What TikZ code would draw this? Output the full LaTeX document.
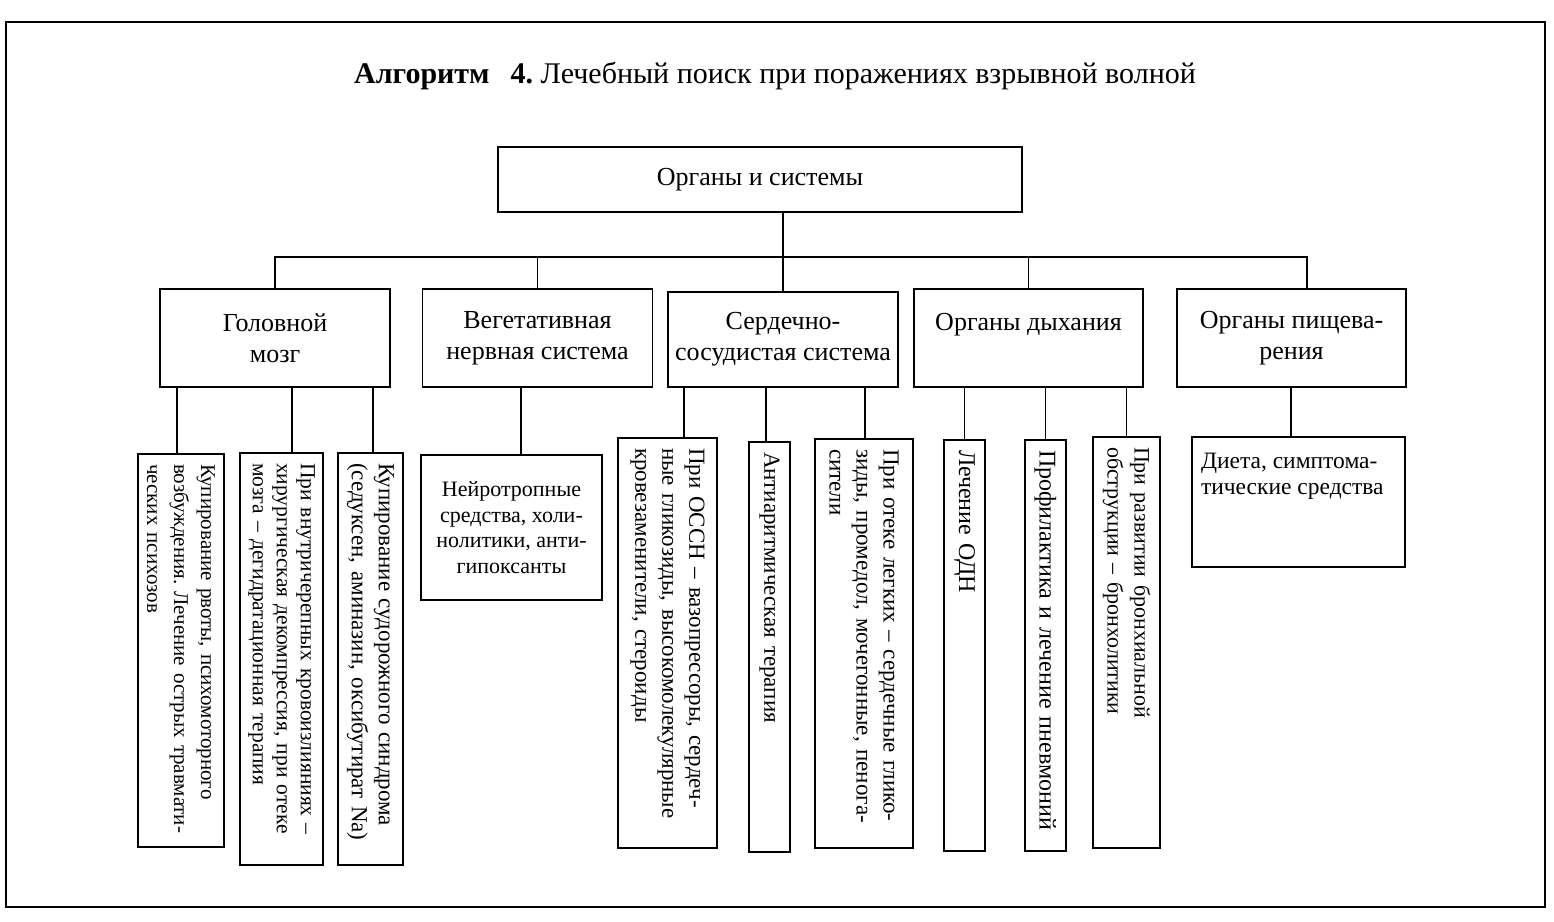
\documentclass[tikz,border=0pt]{standalone}
\usepackage{fontspec}
\setmainfont{Liberation Serif}
\frenchspacing
\usetikzlibrary{positioning}
\tikzset{
  box/.style={draw, line width=1.5pt, align=center, inner sep=4pt,
    font=\fontsize{26}{31}\selectfont},
  sbox/.style={draw, line width=1.5pt, inner sep=10pt,
    font=\fontsize{22}{25.5}\selectfont},
  vbox/.style 2 args={draw, line width=1.5pt, rotate=-90, align=left,
    inner xsep=10pt, inner ysep=3pt, text width=#1, minimum height=#2,
    font=\fontsize{22}{27}\selectfont},
  link/.style={line width=1.3pt},
}

\begin{document}
\begin{tikzpicture}[x=1pt, y=-1pt]
  \useasboundingbox (0,0) rectangle (1554,921);
  \draw[line width=2pt] (6,22) rectangle (1545,907);

  \node[font=\fontsize{30}{36}\selectfont] (title) at (775,76)
    {\textbf{Алгоритм\hspace{0.7em}4.} Лечебный поиск при поражениях взрывной волной};

  \node[box, minimum width=524pt, minimum height=65pt] (org) at (760,179.5) {Органы и системы};

  %%% organs %%%
  \node[box, minimum width=230pt, minimum height=98pt] (gm) at (275,338) {Головной\\мозг};
  \node[box, minimum width=230pt, minimum height=98pt] (vns) at (537.5,338) {Вегетативная\\нервная система};
  \node[box, minimum width=230pt, minimum height=95pt] (css) at (783,339.5) {Сердечно-\\сосудистая система};
  \node[box, minimum width=229pt, minimum height=98pt] (od) at (1028.5,338) {Органы дыхания\\\phantom{О}};
  \node[box, minimum width=229pt, minimum height=98pt] (op) at (1291.5,338) {Органы пищева-\\рения};

  \coordinate (bus) at (0,257);
  \draw[link] (org.south -| css.north) -- (css.north);
  \draw[link] (gm.north) -- (gm.north |- bus) -- ([xshift=15.5pt]op.north |- bus) -- ([xshift=15.5pt]op.north);
  \foreach \n in {vns,od}
  \draw[link] (\n.north) -- (\n.north |- bus);

  %%% treatment %%%
  \node[vbox={373pt}{86pt}, font=\fontsize{21}{27}\selectfont] (ga) at (181,650.5)
    {Купирование рвоты, психомоторного\\возбуждения. Лечение острых травмати-\\ческих психозов};
  \node[vbox={392pt}{83pt}, font=\fontsize{21.5}{24}\selectfont] (gb) at (281.5,659)
    {При внутричерепных кровоизлияниях –\\хирургическая декомпрессия, при отеке\\мозга – дегидратационная терапия};
  \node[vbox={392pt}{65pt}, font=\fontsize{23}{27}\selectfont] (gc) at (370.5,659)
    {Купирование судорожного синдрома\\(седуксен, аминазин, оксибутират Na)};

  \node[sbox, minimum width=181pt, minimum height=145pt, align=center] (va) at (511.5,527.5)
    {Нейротропные\\средства, холи-\\нолитики, анти-\\гипоксанты};

  \node[vbox={390pt}{99pt}, font=\fontsize{23}{27}\selectfont] (ca) at (667.5,643)
    {При ОССН – вазопрессоры, сердеч-\\ные гликозиды, высокомолекулярные\\кровезаменители, стероиды};
  \node[vbox={390pt}{41pt}, font=\fontsize{23}{27}\selectfont] (cb) at (769.5,647) {Антиаритмическая терапия};
  \node[vbox={389pt}{98pt}, font=\fontsize{23}{27}\selectfont] (cc) at (864,643.5)
    {При отеке легких – сердечные глико-\\зиды, промедол, мочегонные, пенога-\\сители};

  \node[vbox={391pt}{41pt}, font=\fontsize{24}{27}\selectfont] (da) at (964.5,645.5) {Лечение ОДН};
  \node[vbox={391pt}{41pt}, font=\fontsize{24}{27}\selectfont] (db) at (1045.5,645.5) {Профилактика и лечение пневмоний};
  \node[vbox={391pt}{67pt}] (dc) at (1126.5,642.5)
    {При развитии бронхиальной\\обструкции – бронхолитики};

  \node[sbox, inner xsep=9pt, inner ysep=16pt, font=\fontsize{23.5}{26}\selectfont] (pa) at (1298.5,502)
    {\parbox[c][98pt][t]{195pt}{\raggedright Диета, симптома-\\тические средства}};

  \foreach \n/\d in {ga/-4,gb/10.5,gc/2.5}
  \draw[link] ([xshift=\d pt]\n.west) -- ([xshift=\d pt]\n.west |- gm.south);
  \foreach \n/\d in {ca/16.5,cb/-3.5,cc/1}
  \draw[link] ([xshift=\d pt]\n.west) -- ([xshift=\d pt]\n.west |- css.south);
  \foreach \n in {da,db,dc}
  \draw[link] (\n.west) -- (\n.west |- od.south);
  \draw[link] ([xshift=9.5pt]va.north) -- ([xshift=9.5pt]va.north |- vns.south);
  \draw[link] ([xshift=-7.5pt]pa.north) -- ([xshift=-7.5pt]pa.north |- op.south);
\end{tikzpicture}
\end{document}
